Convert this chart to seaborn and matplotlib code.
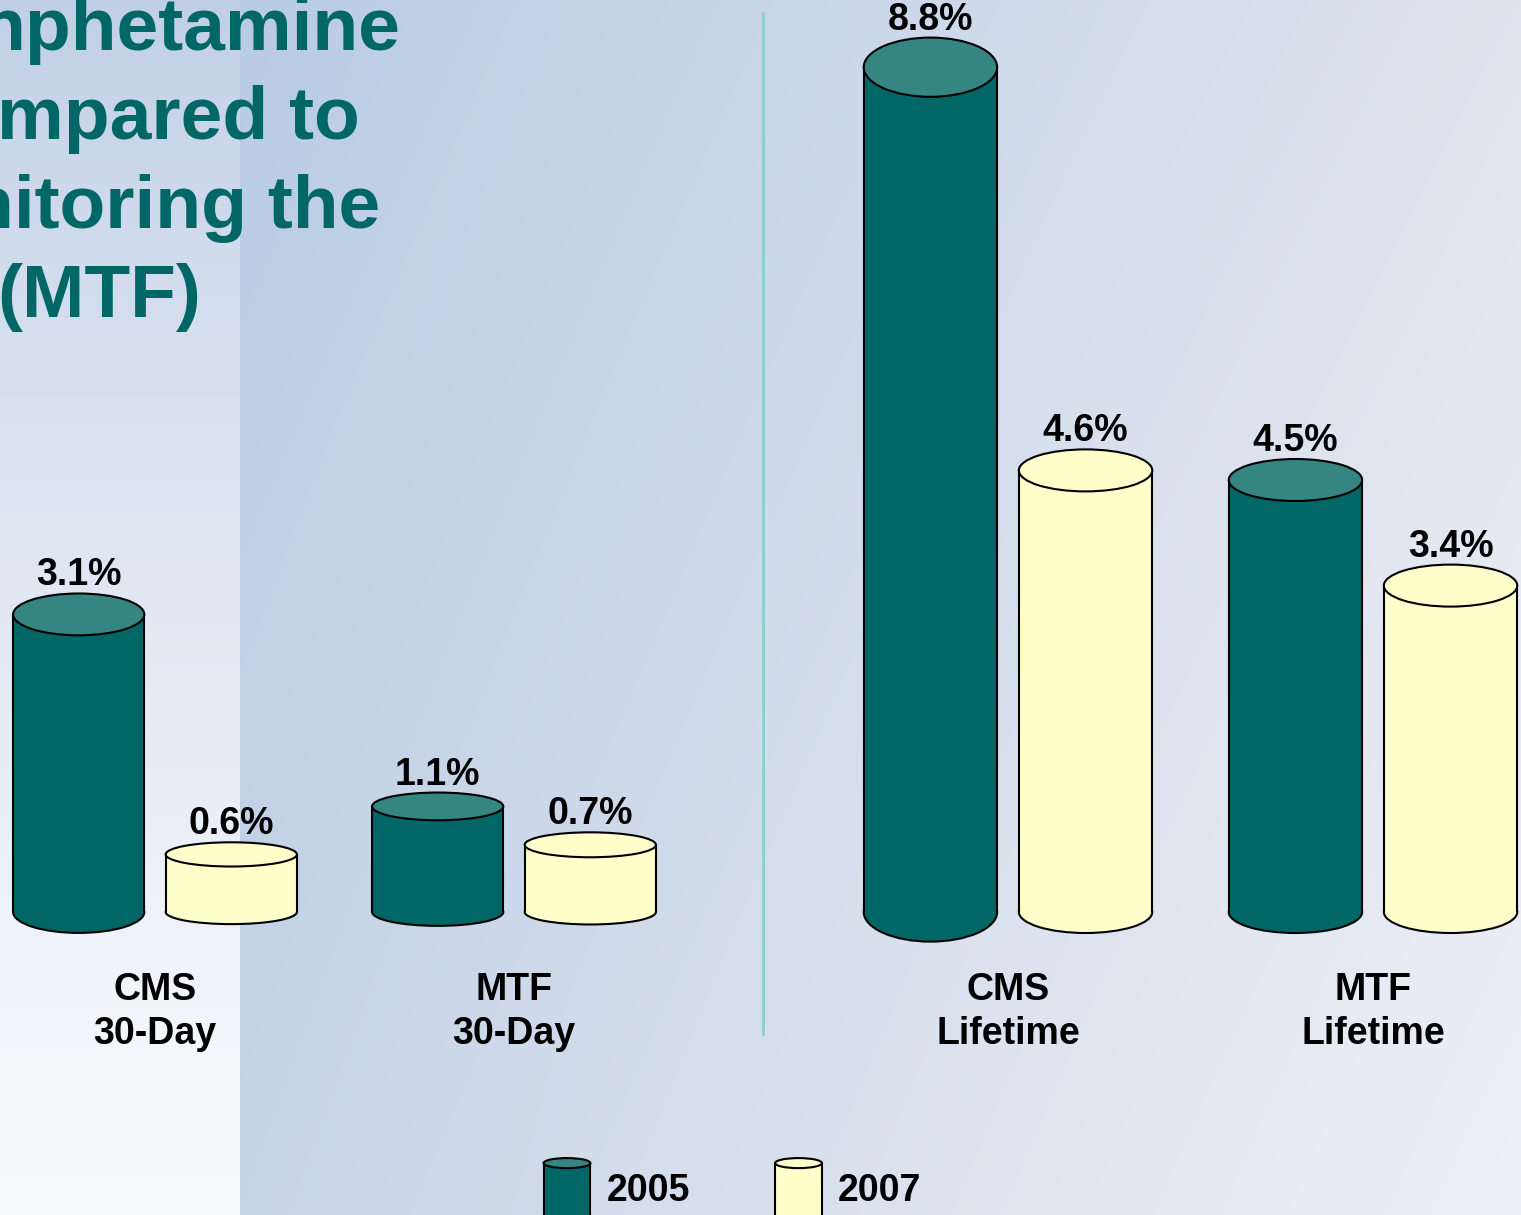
import numpy as np
import pandas as pd
import matplotlib
matplotlib.use("Agg")
import matplotlib.pyplot as plt
import seaborn as sns
from matplotlib.patches import Ellipse, Rectangle, Patch
from matplotlib.legend_handler import HandlerBase
from matplotlib.lines import Line2D


# ----------------------------- data
sources = ["CMS", "MTF", "CMS", "MTF"]
periods = ["30-Day", "30-Day", "Lifetime", "Lifetime"]
years = ["2005", "2007"]
pct_2005 = [3.1, 1.1, 8.8, 4.5]
pct_2007 = [0.6, 0.7, 4.6, 3.4]
title_lines = ["nphetamine", "mpared to", "nitoring the", "(MTF)"]

TEAL = "#006666"
TEAL_TOP = "#358582"
CREAM = "#ffffcc"
body = {"2005": TEAL, "2007": CREAM}
top = {"2005": TEAL_TOP, "2007": CREAM}

rows = []
for s, p, a, b in zip(sources, periods, pct_2005, pct_2007):
    rows.append({"group": f"{s}\n{p}", "period": p, "year": "2005", "pct": a})
    rows.append({"group": f"{s}\n{p}", "period": p, "year": "2007", "pct": b})
df = pd.DataFrame(rows)

sns.set_theme(style="white")
plt.rcParams["font.family"] = ["Liberation Sans", "DejaVu Sans"]
plt.rcParams["text.color"] = "black"

W, H = 1521, 1215
fig = plt.figure(figsize=(W / 100, H / 100), dpi=100)

# ----------------------------- background gradient
yy, xx = np.mgrid[0:H, 0:W].astype(np.float32)
u = np.clip((xx - 240) / (W - 240), 0, 1)[..., None]
v = (yy / H)[..., None]
A = np.array([185, 204, 229]) / 255
B = np.array([222, 228, 238]) / 255
C = np.array([200, 213, 231]) / 255
D = np.array([238, 240, 245]) / 255
right = (A * (1 - u) + B * u) * (1 - v) + (C * (1 - u) + D * u) * v
lt = np.array([192, 207, 230]) / 255
lb = np.array([250, 251, 253]) / 255
vv = v ** 0.8
left = lt * (1 - vv) + lb * vv
img = np.where((xx < 240)[..., None], left, right)
bg = fig.add_axes([0, 0, 1, 1], zorder=-10)
bg.imshow(img, aspect="auto", interpolation="nearest")
bg.axis("off")

# ----------------------------- title (cut off at left edge)
for line, x0, yb in zip(title_lines, [-20, -3, -32, -3], [50, 139, 228, 317]):
    fig.text(x0 / W, 1 - yb / H, line, color=TEAL, fontsize=54,
             fontweight="bold", ha="left", va="baseline")

# separator
fig.add_artist(Line2D([763 / W, 763 / W], [1 - 13 / H, 1 - 1034 / H],
                      color="#8fd0cc", lw=2.2))

base_px = 912
ymax = 9.5


def cylinders(ax, sub, order, xlim):
    sns.barplot(data=sub, x="group", y="pct", hue="year", order=order,
                hue_order=years, palette=body, saturation=1, width=0.85,
                gap=0.14, errorbar=None, legend=False, ax=ax)
    ax.set_ylim(0, ymax)
    ax.set_xlim(*xlim)
    ppu = ax.transData.transform((0, 1))[1] - ax.transData.transform((0, 0))[1]
    for cont, yr in zip(ax.containers, years):
        for bar in cont:
            x, w, h = bar.get_x(), bar.get_width(), bar.get_height()
            h_px = h * ppu
            e_px = 20 + 22 * min(1, h_px / 300) + max(0, h_px - 500) * 0.05
            e = e_px / ppu
            bar.set_edgecolor("none")
            bar.set_zorder(2)
            bar.set_clip_on(False)
            ax.add_patch(Ellipse((x + w / 2, 0), w, e, fc=body[yr], ec="black",
                                 lw=1.5, zorder=1, clip_on=False))
            ax.add_patch(Ellipse((x + w / 2, h), w, e, fc=top[yr], ec="black",
                                 lw=1.5, zorder=4, clip_on=False))
            for xs in (x, x + w):
                ax.plot([xs, xs], [0, h], color="black", lw=1.5, zorder=3,
                        clip_on=False, solid_capstyle="butt")
            ax.annotate(f"{h:.1f}%", xy=(x + w / 2, h),
                        xytext=(0, e_px / 2 + 8), textcoords="offset pixels",
                        ha="center", va="baseline", fontsize=27,
                        fontweight="bold", color="black", annotation_clip=False)
    ax.set_xlabel("")
    ax.set_ylabel("")
    ax.set_yticks([])
    ax.tick_params(axis="x", length=0, pad=43, labelsize=27, labelcolor="black")
    for lbl in ax.get_xticklabels():
        lbl.set_fontweight("bold")
        lbl.set_linespacing(1.3)
    sns.despine(ax=ax, left=True, bottom=True)
    ax.patch.set_alpha(0)


ax_b = 1 - base_px / H
ax1 = fig.add_axes([0, ax_b, 740 / W, base_px / H])
ax2 = fig.add_axes([780 / W, ax_b, 741 / W, base_px / H])

sub1 = df[df["period"] == "30-Day"]
sub2 = df[df["period"] == "Lifetime"]
cylinders(ax1, sub1, list(sub1["group"].unique()), (-155 / 359, (740 - 155) / 359))
cylinders(ax2, sub2, list(sub2["group"].unique()), ((780 - 1008) / 365, (1521 - 1008) / 365))


# ----------------------------- legend with cylinder icons
class CylinderHandler(HandlerBase):
    def create_artists(self, legend, orig_handle, xdescent, ydescent,
                       width, height, fontsize, trans):
        yr = orig_handle.get_label()
        x0, y0 = -xdescent, -ydescent
        e = height * 0.16
        arts = [
            Ellipse((x0 + width / 2, y0 + e / 2), width, e, fc=body[yr],
                    ec="black", lw=1.5, transform=trans),
            Rectangle((x0, y0 + e / 2), width, height - e, fc=body[yr],
                      ec="none", transform=trans),
            Line2D([x0, x0], [y0 + e / 2, y0 + height - e / 2], color="black",
                   lw=1.5, transform=trans),
            Line2D([x0 + width] * 2, [y0 + e / 2, y0 + height - e / 2],
                   color="black", lw=1.5, transform=trans),
            Ellipse((x0 + width / 2, y0 + height - e / 2), width, e,
                    fc=top[yr], ec="black", lw=1.5, transform=trans),
        ]
        return arts


handles = [Patch(facecolor=body[y], label=y) for y in years]
leg = fig.legend(handles=handles, labels=years,
                 handler_map={Patch: CylinderHandler()},
                 loc="center", bbox_to_anchor=(0.4816, 0.021), ncol=2,
                 frameon=False, prop={"weight": "bold", "size": 27},
                 handlelength=1.25, handleheight=2.2, handletextpad=0.43,
                 columnspacing=2.27)
for t in leg.get_texts():
    t.set_color("black")

fig.savefig("out.png", dpi=100)
